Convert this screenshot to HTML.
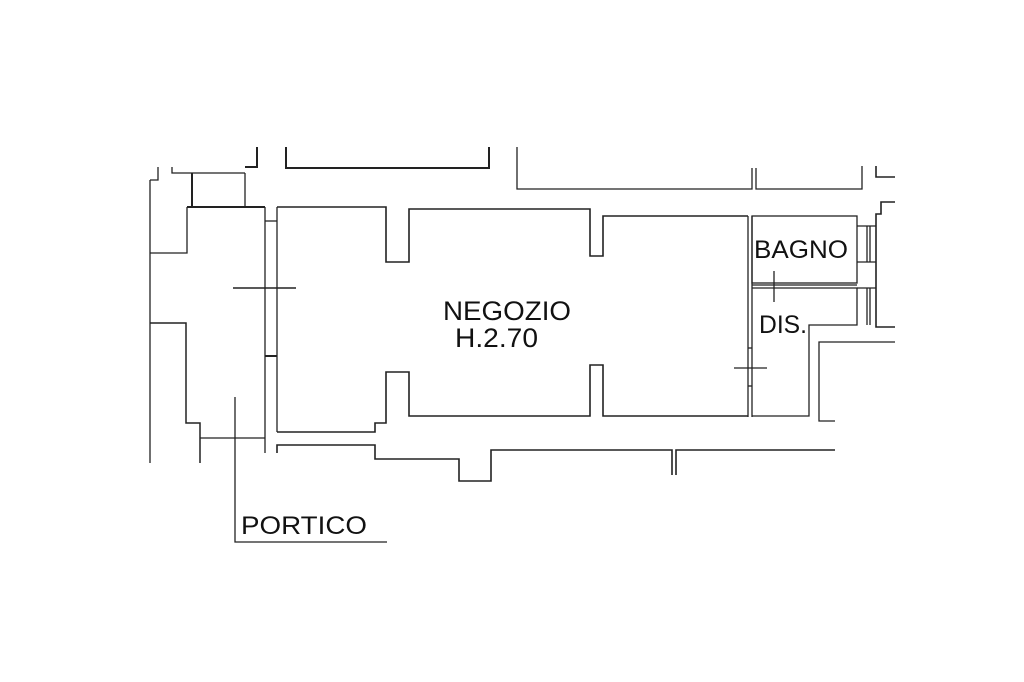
<!DOCTYPE html>
<html><head><meta charset="utf-8"><style>html,body{margin:0;padding:0;background:#fff}svg{display:block}</style></head>
<body>
<svg width="1024" height="682" viewBox="0 0 1024 682" xmlns="http://www.w3.org/2000/svg">
<g fill="none" stroke="#222" stroke-width="1.3">
<polyline points="150,180 158,180 158,167"/>
<line x1="150" y1="180" x2="150" y2="463"/>
<polyline points="172,167 172,173 245,173"/>
<line x1="192" y1="173" x2="192" y2="207" stroke-width="2"/>
<line x1="245" y1="173" x2="245" y2="207"/>
<polyline points="245,167 257,167 257,147" stroke-width="2"/>
<polyline points="286,147 286,168 489,168 489,147" stroke-width="2"/>
<line x1="187" y1="207" x2="265" y2="207" stroke-width="2"/>
<polyline points="187,207 187,253 150,253"/>
<line x1="265" y1="207" x2="265" y2="453"/>
<line x1="277" y1="207" x2="277" y2="432"/>
<line x1="265" y1="221" x2="277" y2="221"/>
<line x1="265" y1="356" x2="277" y2="356" stroke-width="2"/>
<polyline points="277,207 386,207 386,262 409,262 409,209 590,209 590,256 603,256 603,216 748,216" stroke-width="1.6"/>
<line x1="233" y1="288" x2="296" y2="288" stroke-width="1.6"/>
<polyline points="150,323 186,323 186,423 200,423 200,463" stroke-width="1.5"/>
<line x1="200" y1="438" x2="265" y2="438"/>
<polyline points="235,397 235,542 387,542"/>
<polyline points="277,432 375,432 375,423 386,423 386,372 409,372 409,416 590,416 590,365 603,365 603,416 748,416" stroke-width="1.6"/>
<polyline points="277,453 277,445 375,445 375,459 459,459 459,481 491,481 491,450 672,450 672,475" stroke-width="1.6"/>
<polyline points="676,475 676,450 835,450" stroke-width="1.6"/>
<polyline points="517,147 517,189 752,189 752,168"/>
<polyline points="756,168 756,189 862,189 862,166"/>
<polyline points="876,166 876,177 895,177" stroke-width="1.6"/>
<polyline points="895,202 881,202 881,214 876,214 876,327 895,327" stroke-width="1.6"/>
<line x1="748" y1="216" x2="748" y2="417"/>
<line x1="752" y1="216" x2="752" y2="417"/>
<line x1="748" y1="348" x2="752" y2="348"/>
<line x1="748" y1="386" x2="752" y2="386"/>
<rect x="752" y="216" width="105" height="67"/>
<line x1="857" y1="226" x2="876" y2="226"/>
<line x1="857" y1="262" x2="876" y2="262"/>
<line x1="867" y1="226" x2="867" y2="262"/>
<line x1="870" y1="226" x2="870" y2="262"/>
<polyline points="752,288 857,288 857,325 809,325 809,416 752,416"/>
<line x1="752" y1="285" x2="857" y2="285"/>
<line x1="857" y1="288" x2="876" y2="288"/>
<line x1="867" y1="288" x2="867" y2="325"/>
<line x1="870" y1="288" x2="870" y2="325"/>
<polyline points="895,342 819,342 819,421 835,421"/>
<line x1="774" y1="271" x2="774" y2="302"/>
<line x1="734" y1="368" x2="767" y2="368"/>
</g>
<g font-family="Liberation Sans, Arial, sans-serif" fill="#111">
<text x="443" y="320" font-size="27" textLength="128" lengthAdjust="spacingAndGlyphs">NEGOZIO</text>
<text x="455" y="347" font-size="27" textLength="83" lengthAdjust="spacingAndGlyphs">H.2.70</text>
<text x="754" y="258" font-size="25" textLength="94" lengthAdjust="spacingAndGlyphs">BAGNO</text>
<text x="759" y="333" font-size="25" textLength="48" lengthAdjust="spacingAndGlyphs">DIS.</text>
<text x="241" y="534" font-size="25" textLength="126" lengthAdjust="spacingAndGlyphs">PORTICO</text>
</g>
</svg>
</body></html>
